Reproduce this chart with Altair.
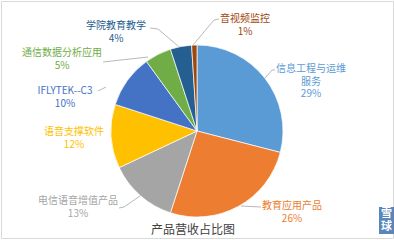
import altair as alt
import pandas as pd

# ---- data ----
categories = ["信息工程与运维服务", "教育应用产品", "电信语音增值产品", "语音支撑软件",
              "IFLYTEK--C3", "通信数据分析应用", "学院教育教学", "音视频监控"]
shares = [29, 26, 13, 12, 10, 5, 4, 1]
label_lines = [["信息工程与运维", "服务"], ["教育应用产品"], ["电信语音增值产品"], ["语音支撑软件"],
               ["IFLYTEK--C3"], ["通信数据分析应用"], ["学院教育教学"], ["音视频监控"]]
title_text = "产品营收占比图"

# ---- styles / layout ----
colors = ["#5B9BD5", "#ED7D31", "#A5A5A5", "#FFC000", "#4472C4", "#70AD47", "#255E91", "#9E480E"]
FONT = "Noto Sans CJK SC"
PAD = 1
CX, CY, R = 197, 131, 86
LH = 12.7
label_pos = [(311, 69), (292, 206), (78, 201), (74, 132), (65, 91), (62, 53), (116, 26), (245, 19)]
leaders = [
    [(265, 78), (272, 70), (275, 70)],
    [(241, 206), (261, 207)],
    [(119, 208), (124, 207), (140, 196)],
    [],
    [(98, 91), (106, 87)],
    [(103, 62), (148, 57)],
    [(150, 28), (158, 29), (178, 46)],
    [(219, 19), (214, 20), (193, 45)],
]

color_scale = alt.Scale(domain=categories, range=colors)

pie_df = pd.DataFrame({"cat": categories, "share": shares, "idx": list(range(len(categories)))})
pie = alt.Chart(pie_df).mark_arc(radius=R, stroke="white", strokeWidth=0.7).encode(
    theta=alt.Theta("share:Q", stack=True),
    order=alt.Order("idx:Q"),
    color=alt.Color("cat:N", scale=color_scale, legend=None),
    x=alt.value(CX - PAD),
    y=alt.value(CY - PAD),
)

rows = []
for i, c in enumerate(categories):
    lines = label_lines[i] + [f"{shares[i]}%"]
    x0, y0 = label_pos[i]
    for j, t in enumerate(lines):
        rows.append({"t": t, "x": x0 - PAD, "y": y0 - PAD + j * LH, "cat": c})
lab_df = pd.DataFrame(rows)
labels = alt.Chart(lab_df).mark_text(font=FONT, fontSize=10, baseline="middle", align="center").encode(
    x=alt.X("x:Q", scale=None, axis=None),
    y=alt.Y("y:Q", scale=None, axis=None),
    text="t:N",
    color=alt.Color("cat:N", scale=color_scale, legend=None),
)

lrows = []
for i, pts in enumerate(leaders):
    for k, (px, py) in enumerate(pts):
        lrows.append({"cat": categories[i], "k": k, "x": px - PAD, "y": py - PAD})
lead_df = pd.DataFrame(lrows)
lead = alt.Chart(lead_df).mark_line(color="#A6A6A6", strokeWidth=0.8).encode(
    x=alt.X("x:Q", scale=None, axis=None),
    y=alt.Y("y:Q", scale=None, axis=None),
    detail="cat:N",
    order="k:Q",
)

title = alt.Chart(pd.DataFrame({"t": [title_text]})).mark_text(
    font=FONT, fontSize=12, color="#404040", baseline="middle", align="center"
).encode(x=alt.value(193 - PAD), y=alt.value(230 - PAD), text="t:N")

wm_box = alt.Chart(pd.DataFrame({"a": [0]})).mark_rect(color="#5A86BA").encode(
    x=alt.value(379 - PAD), x2=alt.value(394 - PAD), y=alt.value(207 - PAD), y2=alt.value(234 - PAD)
)
wm_text = alt.Chart(pd.DataFrame({"t": ["雪", "球"], "y": [214 - PAD, 227 - PAD]})).mark_text(
    font=FONT, fontSize=11, color="white", baseline="middle", align="center", fontWeight="bold"
).encode(x=alt.value(386.5 - PAD), y=alt.Y("y:Q", scale=None, axis=None), text="t:N")

chart = alt.layer(pie, lead, labels, title, wm_box, wm_text).properties(
    width=392, height=237,
    padding={"left": PAD, "top": PAD, "right": 1, "bottom": 2},
    autosize="none",
    background="white",
).configure_view(stroke="#D9D9D9", strokeWidth=1)

chart.save("out.html", embed_options={"renderer": "svg", "actions": False})
